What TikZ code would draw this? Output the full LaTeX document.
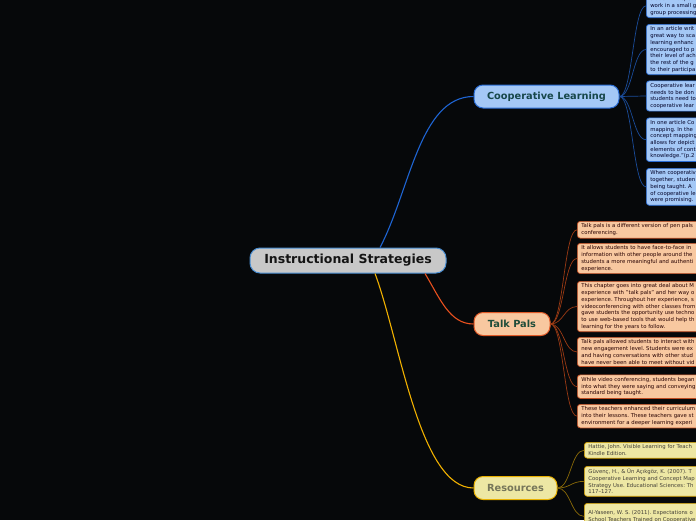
\documentclass[tikz,border=0pt]{standalone}
\usepackage{fontspec}
\setmainfont{DejaVu Sans}
\usepackage{tikz}
\frenchspacing

\definecolor{bgdark}{HTML}{06080A}
\definecolor{rootfill}{HTML}{C8C8C8}
\definecolor{rootborder}{HTML}{4A8ED2}
\definecolor{coopline}{HTML}{1E64D2}
\definecolor{coopfill}{HTML}{A4C8F6}
\definecolor{coopborder}{HTML}{2A6CD4}
\definecolor{cooptext}{HTML}{17474A}
\definecolor{coopdark}{HTML}{1A4C9A}
\definecolor{talkline}{HTML}{E8501E}
\definecolor{talkfill}{HTML}{F8C8A0}
\definecolor{talkborder}{HTML}{E05A28}
\definecolor{talktext}{HTML}{1F4D3A}
\definecolor{talkdark}{HTML}{9A3A14}
\definecolor{resline}{HTML}{F0B000}
\definecolor{resfill}{HTML}{EDE7A4}
\definecolor{resborder}{HTML}{E8B000}
\definecolor{restext}{HTML}{76765A}
\definecolor{resdark}{HTML}{8A6A08}

\begin{document}
\begin{tikzpicture}[
    x=1pt, y=-1pt,
    rootbox/.style={draw=rootborder, line width=1pt, fill=rootfill, rounded corners=10pt, minimum width=196pt, minimum height=25pt, inner sep=0pt, font=\fontsize{12.5}{14}\selectfont\bfseries, text=black!92},
    branchbox/.style={draw, line width=1pt, rounded corners=9pt, minimum height=23pt, inner sep=0pt, font=\fontsize{9.8}{11}\selectfont\bfseries},
    notebox/.style={draw, line width=0.7pt, rounded corners=3pt, align=left, text width=160pt, inner xsep=4pt, inner ysep=2.5pt, font=\fontsize{5.35}{6.7}\selectfont, anchor=north west},
    coopnote/.style={notebox, fill=coopfill, draw=coopborder, text=black!85!blue},
    talknote/.style={notebox, fill=talkfill, draw=talkborder!85!black, text=black!85!red},
    resnote/.style={notebox, fill=resfill, draw=resborder!90!black, text=black!85!yellow},
    limb/.style={draw, line width=1.1pt},
    twig/.style={draw, line width=0.7pt}
]

    \fill[bgdark] (0,0) rectangle (696,520);
    \useasboundingbox (0,0) rectangle (696,520);
    \clip (0,0) rectangle (696,520);

    % Centre
    \node[rootbox] (instr) at (348, 260.5) {Instructional Strategies};

    % Main branches
    \node[branchbox, fill=coopfill, draw=coopborder, text=cooptext, minimum width=145pt] (coop) at (546.5, 96.5) {Cooperative Learning};
    \node[branchbox, fill=talkfill, draw=talkborder, text=talktext, minimum width=76pt] (talk) at (512, 324) {Talk Pals};
    \node[branchbox, fill=resfill, draw=resborder, text=restext, minimum width=83pt] (res) at (515.5, 488) {Resources};

    \draw[limb, coopline] ([xshift=32pt]instr.north) .. controls +(30,-57) and +(-54,0) .. (coop.west);
    \draw[limb, talkline] ([xshift=77pt]instr.south) .. controls +(15,25) and +(-24,0) .. (talk.west);
    \draw[limb, resline] ([xshift=27pt]instr.south) .. controls +(25,67) and +(-54,0) .. (res.west);

    % Cooperative Learning -- notes
    \node[coopnote, anchor=south west] (coop_n1) at (646, 18) {student independ\\work in a small g\\group processing};
    \node[coopnote] (coop_n2) at (646, 24) {In an article writ\\great way to sca\\learning enhanc\\encouraged to p\\their level of ach\\the rest of the g\\to their participa};
    \node[coopnote] (coop_n3) at (646, 80.5) {Cooperative lear\\needs to be don\\students need to\\cooperative lear};
    \node[coopnote] (coop_n4) at (646, 117.5) {In one article Co\\mapping. In the\\concept mapping\\allows for depict\\elements of cont\\knowledge."(p.2};
    \node[coopnote] (coop_n5) at (646, 168) {When cooperativ\\together, studen\\being taught. A\\of cooperative le\\were promising.};

    \draw[twig, coopdark] (coop.east) .. controls +(13,0) and +(-13,0) .. (coop_n1.west);
    \draw[twig, coopdark] (coop.east) .. controls +(13,0) and +(-13,0) .. (coop_n2.west);
    \draw[twig, coopdark] (coop.east) .. controls +(13,0) and +(-13,0) .. (coop_n3.west);
    \draw[twig, coopdark] (coop.east) .. controls +(13,0) and +(-13,0) .. (coop_n4.west);
    \draw[twig, coopdark] (coop.east) .. controls +(13,0) and +(-13,0) .. (coop_n5.west);

    % Talk Pals -- notes
    \node[talknote] (talk_n1) at (577, 221) {Talk pals is a different version of pen pals\\conferencing.};
    \node[talknote] (talk_n2) at (577, 243) {It allows students to have face-to-face in\\information with other people around the\\students a more meaningful and authenti\\experience.};
    \node[talknote] (talk_n3) at (577, 281) {This chapter goes into great deal about M\\experience with "talk pals" and her way o\\experience. Throughout her experience, s\\videoconferencing with other classes from\\gave students the opportunity use techno\\to use web-based tools that would help th\\learning for the years to follow.};
    \node[talknote] (talk_n4) at (577, 337) {Talk pals allowed students to interact with\\new engagement level. Students were ex\\and having conversations with other stud\\have never been able to meet without vid};
    \node[talknote] (talk_n5) at (577, 374.5) {While video conferencing, students began\\into what they were saying and conveying\\standard being taught.};
    \node[talknote] (talk_n6) at (577, 404) {These teachers enhanced their curriculum\\into their lessons. These teachers gave st\\environment for a deeper learning experi};

    \draw[twig, talkdark] (talk.east) .. controls +(13,0) and +(-13,0) .. (talk_n1.west);
    \draw[twig, talkdark] (talk.east) .. controls +(13,0) and +(-13,0) .. (talk_n2.west);
    \draw[twig, talkdark] (talk.east) .. controls +(13,0) and +(-13,0) .. (talk_n3.west);
    \draw[twig, talkdark] (talk.east) .. controls +(13,0) and +(-13,0) .. (talk_n4.west);
    \draw[twig, talkdark] (talk.east) .. controls +(13,0) and +(-13,0) .. (talk_n5.west);
    \draw[twig, talkdark] (talk.east) .. controls +(13,0) and +(-13,0) .. (talk_n6.west);

    % Resources -- notes
    \node[resnote] (res_n1) at (584, 442) {Hattie, John. Visible Learning for Teach\\Kindle Edition.};
    \node[resnote] (res_n2) at (584, 466) {Güvenç, H., \& Ün Açıkgöz, K. (2007). T\\Cooperative Learning and Concept Map\\Strategy Use. Educational Sciences: Th\\117–127.};
    \node[resnote, minimum height=26pt] (res_n3) at (584, 503) {Al-Yaseen, W. S. (2011). Expectations o\\School Teachers Trained on Cooperative};

    \draw[twig, resdark] (res.east) .. controls +(13,0) and +(-13,0) .. (res_n1.west);
    \draw[twig, resdark] (res.east) .. controls +(13,0) and +(-13,0) .. (res_n2.west);
    \draw[twig, resdark] (res.east) .. controls +(13,0) and +(-13,0) .. (res_n3.west);

\end{tikzpicture}
\end{document}
